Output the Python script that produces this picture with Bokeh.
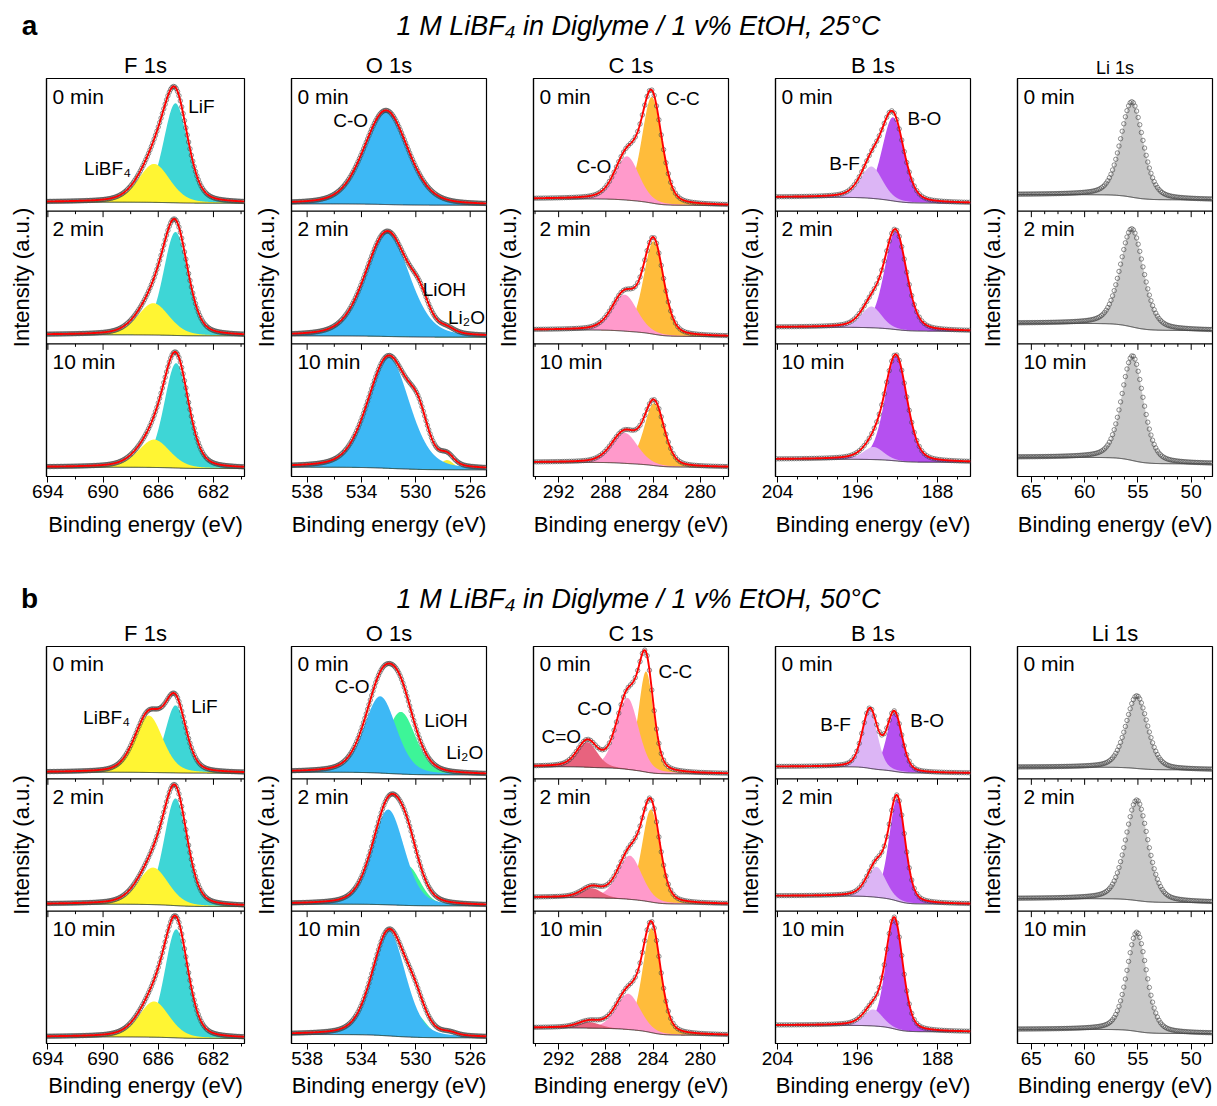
import numpy as np
from bokeh.plotting import figure
from bokeh.layouts import column, row
from bokeh.models import Range1d, FixedTicker, Span
from bokeh.core.properties import value
from bokeh.embed import file_html
from bokeh.resources import INLINE

# ======================= DATA =======================
SECTION_LETTERS = ["a", "b"]
SECTION_TITLES = ["1 M LiBF₄ in Diglyme / 1 v% EtOH, 25°C",
                  "1 M LiBF₄ in Diglyme / 1 v% EtOH, 50°C"]
REGIONS = ["F 1s", "O 1s", "C 1s", "B 1s", "Li 1s"]
TIMES = ["0 min", "2 min", "10 min"]
X_LABEL = "Binding energy (eV)"
Y_LABEL = "Intensity (a.u.)"

# x ranges (high BE on the left) and ticks
F_RANGE = [694.1, 679.75]
F_TICKS = [694, 690, 686, 682]
F_MINOR = [692, 688, 684, 680]
O_RANGE = [539.15, 524.8]
O_TICKS = [538, 534, 530, 526]
O_MINOR = [536, 532, 528]
C_RANGE = [294.13, 277.6]
C_TICKS = [292, 288, 284, 280]
C_MINOR = [294, 290, 286, 282, 278]
B_RANGE = [204.2, 184.7]
B_TICKS = [204, 196, 188]
B_MINOR = [202, 200, 198, 194, 192, 190, 186]
LI_RANGE = [66.3, 48.0]
LI_TICKS = [65, 60, 55, 50]
LI_MINOR = [63.75, 62.5, 61.25, 58.75, 57.5, 56.25, 53.75, 52.5, 51.25, 48.75]

# Peak components: one [center eV, FWHM eV, height] per time (0, 2, 10 min)
# Backgrounds: [level at high-BE side, level at low-BE side] per time
# ---- a: 25 °C ----
A_F_BG = [[0.068, 0.060], [0.068, 0.060], [0.070, 0.060]]
A_F_LIF = [[684.75, 2.1, 0.75], [684.75, 2.1, 0.78], [684.70, 2.1, 0.79]]
A_F_LIBF4 = [[686.30, 2.7, 0.29], [686.35, 2.7, 0.24], [686.30, 2.7, 0.21]]

A_O_BG = [[0.055, 0.045], [0.060, 0.050], [0.070, 0.050]]
A_O_CO = [[532.2, 3.8, 0.71], [532.1, 3.8, 0.79], [532.0, 3.6, 0.84]]
A_O_LIOH = [[529.8, 1.6, 0.0], [529.7, 1.6, 0.14], [529.8, 1.7, 0.235]]
A_O_LI2O = [[527.7, 1.3, 0.0], [527.7, 1.3, 0.03], [527.7, 1.2, 0.073]]

A_C_BG = [[0.093, 0.043], [0.105, 0.055], [0.107, 0.070]]
A_C_CC = [[284.10, 2.0, 0.80], [283.95, 2.0, 0.70], [283.90, 2.0, 0.47]]
A_C_CO = [[286.2, 2.4, 0.33], [286.4, 2.5, 0.275], [286.4, 2.6, 0.23]]

A_B_BG = [[0.105, 0.060], [0.125, 0.095], [0.130, 0.107]]
A_B_BO = [[192.45, 2.6, 0.63], [192.20, 2.6, 0.74], [192.15, 2.6, 0.79]]
A_B_BF = [[194.6, 2.6, 0.24], [194.6, 2.4, 0.16], [194.4, 2.4, 0.095]]

A_LI_BG = [[0.125, 0.085], [0.155, 0.100], [0.145, 0.095]]
A_LI_LI = [[55.56, 2.5, 0.72], [55.56, 2.6, 0.74], [55.50, 2.4, 0.79]]

# ---- b: 50 °C ----
B_F_BG = [[0.050, 0.043], [0.053, 0.035], [0.050, 0.038]]
B_F_LIF = [[684.75, 1.8, 0.51], [684.75, 2.0, 0.81], [684.70, 2.0, 0.82]]
B_F_LIBF4 = [[686.69, 2.4, 0.43], [686.37, 2.6, 0.28], [686.30, 2.6, 0.27]]

B_O_BG = [[0.050, 0.030], [0.053, 0.040], [0.068, 0.043]]
B_O_CO = [[532.62, 2.8, 0.58], [532.03, 2.8, 0.72], [531.98, 2.9, 0.79]]
B_O_LIOH = [[531.10, 2.6, 0.47], [530.60, 2.2, 0.30], [530.06, 1.9, 0.18]]
B_O_LI2O = [[528.3, 1.3, 0.0], [528.0, 1.3, 0.0], [527.55, 1.3, 0.02]]

B_C_BG = [[0.092, 0.037], [0.103, 0.053], [0.118, 0.062]]
B_C_CC = [[284.59, 1.5, 0.76], [284.17, 1.8, 0.70], [284.11, 1.8, 0.79]]
B_C_CO = [[286.16, 2.2, 0.54], [285.97, 2.4, 0.33], [286.10, 2.4, 0.27]]
B_C_CDO = [[289.57, 2.0, 0.19], [289.20, 2.0, 0.073], [289.40, 2.2, 0.045]]

B_B_BG = [[0.092, 0.043], [0.115, 0.053], [0.138, 0.088]]
B_B_BO = [[192.31, 1.8, 0.44], [192.04, 1.9, 0.77], [192.31, 2.0, 0.83]]
B_B_BF = [[194.76, 1.8, 0.44], [194.10, 2.2, 0.23], [194.43, 2.2, 0.125]]

B_LI_BG = [[0.088, 0.068], [0.095, 0.065], [0.107, 0.075]]
B_LI_LI = [[55.1, 2.4, 0.55], [55.1, 2.5, 0.76], [55.1, 2.2, 0.75]]

# Peak names written on the plots: (column, text, energy, y in panel units)
A_PEAK_NAMES = [(0, "LiF", 682.87, 2.79), (0, "LiBF₄", 689.68, 2.32),
                (1, "C-O", 534.8, 2.68), (1, "LiOH", 527.9, 1.41), (1, "Li₂O", 526.27, 1.20),
                (2, "C-C", 281.47, 2.85), (2, "C-O", 289.01, 2.34),
                (3, "B-O", 189.3, 2.70), (3, "B-F", 197.29, 2.36)]
B_PEAK_NAMES = [(0, "LiBF₄", 689.75, 2.46), (0, "LiF", 682.65, 2.55),
                (1, "C-O", 534.69, 2.70), (1, "LiOH", 527.78, 2.44), (1, "Li₂O", 526.4, 2.20),
                (2, "C-C", 282.1, 2.81), (2, "C-O", 288.94, 2.53), (2, "C=O", 291.78, 2.32),
                (3, "B-F", 198.19, 2.41), (3, "B-O", 189.03, 2.44)]

# ======================= STYLE =======================
FONT = "Liberation Sans"
C_LIF = "#3ED6D6"
C_LIBF4 = "#FFF533"
C_OCO = "#3DB8F5"
C_LIOH = "#3DF598"
C_LI2O = "#F5EC3A"
C_CC = "#FFBC3B"
C_CCO = "#FF9ACB"
C_CDO = "#E8637E"
C_BO = "#B550F0"
C_BF = "#DCB5F5"
C_LI = "#C8C8C8"

FRAME_W = 198


def specs(sec):
    if sec == 0:
        return [
            dict(rng=F_RANGE, ticks=F_TICKS, minor=F_MINOR, eta=0.3, step=0.1, bg=A_F_BG,
                 comps=[(A_F_LIF, C_LIF), (A_F_LIBF4, C_LIBF4)], fit=True),
            dict(rng=O_RANGE, ticks=O_TICKS, minor=O_MINOR, eta=0.3, step=0.1, bg=A_O_BG,
                 comps=[(A_O_LI2O, C_LI2O), (A_O_LIOH, C_LIOH), (A_O_CO, C_OCO)], fit=True),
            dict(rng=C_RANGE, ticks=C_TICKS, minor=C_MINOR, eta=0.3, step=0.2, bg=A_C_BG,
                 comps=[(A_C_CC, C_CC), (A_C_CO, C_CCO)], fit=True),
            dict(rng=B_RANGE, ticks=B_TICKS, minor=B_MINOR, eta=0.3, step=0.25, bg=A_B_BG,
                 comps=[(A_B_BO, C_BO), (A_B_BF, C_BF)], fit=True),
            dict(rng=LI_RANGE, ticks=LI_TICKS, minor=LI_MINOR, eta=0.35, step=0.15, bg=A_LI_BG,
                 comps=[(A_LI_LI, C_LI)], fit=False),
        ]
    return [
        dict(rng=F_RANGE, ticks=F_TICKS, minor=F_MINOR, eta=0.3, step=0.1, bg=B_F_BG,
             comps=[(B_F_LIF, C_LIF), (B_F_LIBF4, C_LIBF4)], fit=True),
        dict(rng=O_RANGE, ticks=O_TICKS, minor=O_MINOR, eta=0.3, step=0.1, bg=B_O_BG,
             comps=[(B_O_LI2O, C_LI2O), (B_O_LIOH, C_LIOH), (B_O_CO, C_OCO)], fit=True),
        dict(rng=C_RANGE, ticks=C_TICKS, minor=C_MINOR, eta=0.3, step=0.2, bg=B_C_BG,
             comps=[(B_C_CC, C_CC), (B_C_CO, C_CCO), (B_C_CDO, C_CDO)], fit=True),
        dict(rng=B_RANGE, ticks=B_TICKS, minor=B_MINOR, eta=0.3, step=0.25, bg=B_B_BG,
             comps=[(B_B_BO, C_BO), (B_B_BF, C_BF)], fit=True),
        dict(rng=LI_RANGE, ticks=LI_TICKS, minor=LI_MINOR, eta=0.35, step=0.15, bg=B_LI_BG,
             comps=[(B_LI_LI, C_LI)], fit=False),
    ]


def pvoigt(E, c, w, h, eta):
    u = (E - c) / w
    g = np.exp(-4.0 * np.log(2.0) * u * u)
    l = 1.0 / (1.0 + 4.0 * u * u)
    return h * (eta * l + (1.0 - eta) * g)


def make_panel(sec, ci, spec, frame_h, b_top, b_bot, xlab_standoff):
    bl = 46 if ci == 0 else 38
    br = 4 if ci == 4 else 6
    xr = spec["rng"]
    p = figure(width=bl + FRAME_W + br, height=b_top + frame_h + b_bot,
               x_range=Range1d(xr[0], xr[1]), y_range=Range1d(0, 3),
               output_backend="svg", toolbar_location=None, tools="",
               min_border_left=bl, min_border_right=br,
               min_border_top=b_top, min_border_bottom=b_bot,
               x_axis_label=X_LABEL, y_axis_label=Y_LABEL)
    p.title.text = REGIONS[ci]
    p.title.align = "center"
    p.title.text_font = FONT
    p.title.text_font_size = "18px" if (sec == 0 and ci == 4) else "22px"
    p.title.text_font_style = "normal"
    p.title.text_color = "black"
    p.title.standoff = 2
    p.grid.visible = False
    p.outline_line_color = "black"
    p.outline_line_width = 1.2
    p.background_fill_color = "white"
    p.border_fill_color = "white"

    xa = p.xaxis[0]
    xa.ticker = FixedTicker(ticks=spec["ticks"], minor_ticks=spec["minor"])
    xa.major_tick_out = 6
    xa.major_tick_in = 0
    xa.minor_tick_out = 3
    xa.minor_tick_in = 0
    xa.major_tick_line_color = "black"
    xa.minor_tick_line_color = "black"
    xa.axis_line_color = "black"
    xa.axis_line_width = 1.2
    xa.major_label_standoff = 2
    xa.major_label_text_font = FONT
    xa.major_label_text_font_size = "19px"
    xa.major_label_text_color = "black"
    xa.axis_label_text_font = FONT
    xa.axis_label_text_font_size = "22px"
    xa.axis_label_text_font_style = "normal"
    xa.axis_label_text_color = "black"
    xa.axis_label_standoff = xlab_standoff

    ya = p.yaxis[0]
    ya.ticker = FixedTicker(ticks=[])
    ya.major_tick_out = 0
    ya.major_tick_in = 0
    ya.minor_tick_out = 0
    ya.minor_tick_in = 0
    ya.axis_line_color = "black"
    ya.axis_line_width = 1.2
    ya.axis_label_text_font = FONT
    ya.axis_label_text_font_size = "22px"
    ya.axis_label_text_font_style = "normal"
    ya.axis_label_text_color = "black"
    ya.axis_label_standoff = 13

    lo, hi = min(xr), max(xr)
    E = np.arange(lo, hi + 1e-9, 0.02)
    Es = np.arange(lo + spec["step"] / 2, hi, spec["step"])
    band_px = frame_h / 3.0
    ev_per_px = (xr[0] - xr[1]) / FRAME_W

    for ti in range(3):
        k = 2 - ti
        bgL, bgR = spec["bg"][ti]
        parts = []
        parts_s = []
        for comp, col in spec["comps"]:
            c, w, h = comp[ti]
            if h <= 0:
                continue
            parts.append((pvoigt(E, c, w, h, spec["eta"]), col))
            parts_s.append(pvoigt(Es, c, w, h, spec["eta"]))
        total = sum(pp for pp, _ in parts)
        cum = np.cumsum(total)
        bg = bgR + (bgL - bgR) * cum / cum[-1]
        total_s = sum(parts_s)
        bg_s = np.interp(Es, E, bg)

        for pp, col in parts:
            p.varea(x=E, y1=k + bg, y2=k + bg + pp, fill_color=col, fill_alpha=1.0)
        p.line(E, k + bg, line_color="#222222", line_width=0.9)
        p.scatter(Es, k + bg_s + total_s, marker="circle", size=4.4, fill_color=None,
                  line_color="#444444", line_width=0.7, line_alpha=0.85)
        if spec["fit"]:
            p.line(E, k + bg + total, line_color="#FF0000", line_width=1.9)

        # time label in the upper-left corner
        p.text(x=[xr[0] - 6 * ev_per_px], y=[k + 1 - 6 / band_px], text=[TIMES[ti]],
               text_font=value(FONT), text_font_size="21px", text_color="black",
               text_align="left", text_baseline="top")

    # separators between the three stacked spectra, with their ticks
    for yk in (1, 2):
        p.add_layout(Span(location=yk, dimension="width", line_color="black", line_width=1.2))
        p.segment(x0=spec["ticks"], y0=[yk] * len(spec["ticks"]), x1=spec["ticks"],
                  y1=[yk - 6 / band_px] * len(spec["ticks"]), line_color="black", line_width=1)
        p.segment(x0=spec["minor"], y0=[yk] * len(spec["minor"]), x1=spec["minor"],
                  y1=[yk - 3 / band_px] * len(spec["minor"]), line_color="black", line_width=1)

    names = A_PEAK_NAMES if sec == 0 else B_PEAK_NAMES
    sel = [n for n in names if n[0] == ci]
    if sel:
        p.text(x=[n[2] for n in sel], y=[n[3] for n in sel], text=[n[1] for n in sel],
               text_font=value(FONT), text_font_size="19px", text_color="black",
               text_align="center", text_baseline="middle")
    return p


def make_header(sec, height, y_title):
    h = figure(width=1216, height=height, x_range=Range1d(0, 1216), y_range=Range1d(height, 0),
               output_backend="svg", toolbar_location=None, tools="",
               x_axis_type=None, y_axis_type=None, min_border=0)
    h.grid.visible = False
    h.outline_line_color = None
    h.background_fill_color = "white"
    h.border_fill_color = "white"
    h.text(x=[29], y=[y_title], text=[SECTION_LETTERS[sec]], text_font=value(FONT),
           text_font_size="28px", text_font_style="bold", text_color="black",
           text_align="center", text_baseline="middle")
    h.text(x=[638], y=[y_title], text=[SECTION_TITLES[sec]], text_font=value(FONT),
           text_font_size="27px", text_font_style="italic", text_color="black",
           text_align="center", text_baseline="middle")
    return h


header_a = make_header(0, 46, 25)
panels_a = [make_panel(0, i, s, 398, 32, 64, 11) for i, s in enumerate(specs(0))]
header_b = make_header(1, 74, 58)
panels_b = [make_panel(1, i, s, 398, 32, 56, 5) for i, s in enumerate(specs(1))]

layout = column(header_a, row(*panels_a), header_b, row(*panels_b))
open("out.html", "w").write(file_html(layout, INLINE, title="XPS"))
